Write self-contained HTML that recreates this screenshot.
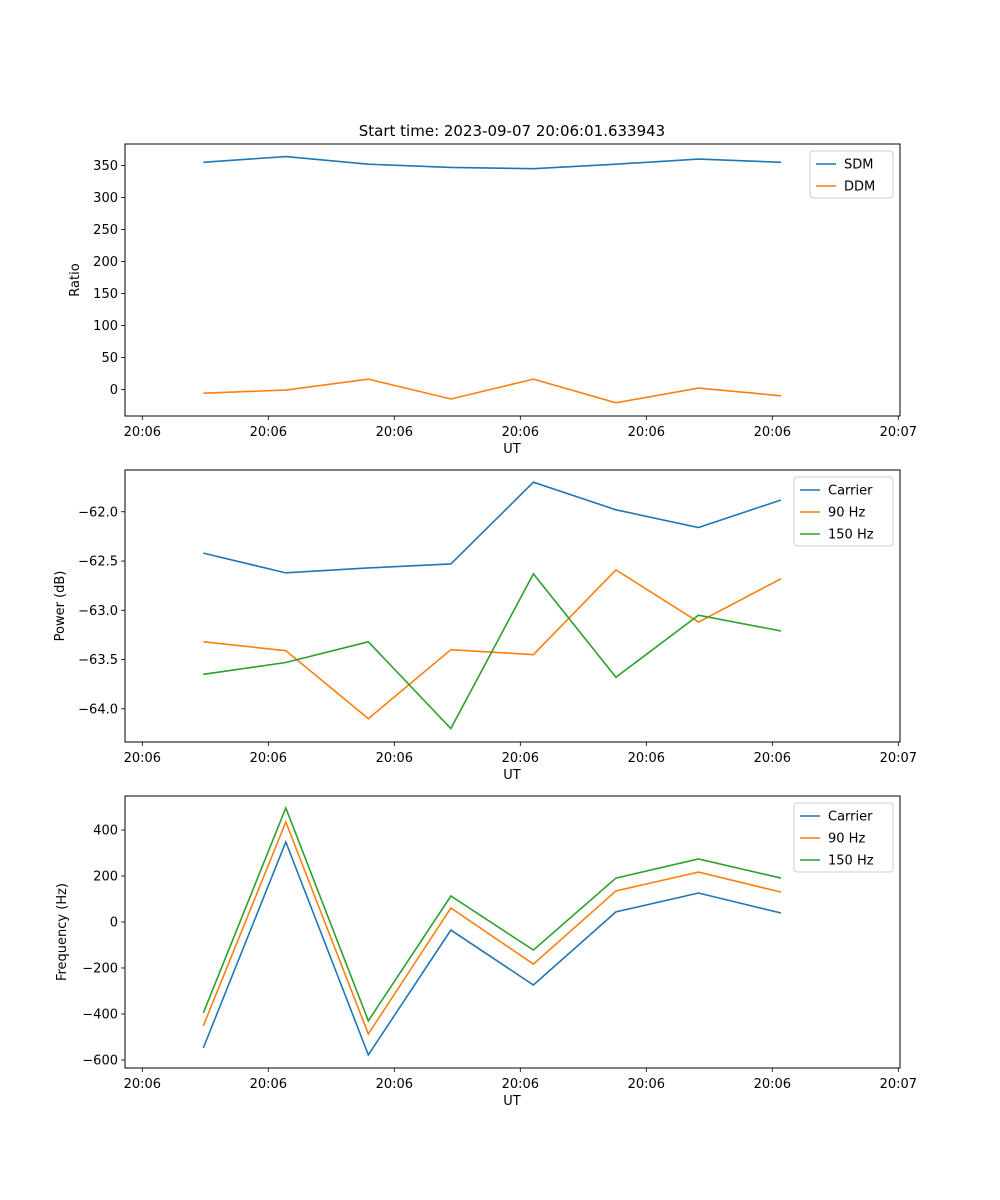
<!DOCTYPE html>
<html><head><meta charset="utf-8"><style>
body{margin:0;background:#fff;}
svg{display:block;font-family:"DejaVu Sans","Liberation Sans",sans-serif;}
</style></head><body>
<svg id="fig" width="1000" height="1200" viewBox="0 0 1000 1200" xmlns="http://www.w3.org/2000/svg">
<rect width="1000" height="1200" fill="#fff"/>
<text x="512" y="136" font-size="15" text-anchor="middle">Start time: 2023-09-07 20:06:01.633943</text>
</svg>
<script>
const xTickLabels = ["20:06","20:06","20:06","20:06","20:06","20:06","20:07"];
const times = [0.484,1.139,1.794,2.449,3.104,3.759,4.414,5.069];
const sdm = [355,364,352,347,345,352,360,355];
const ddm = [-6,-1,16,-15,16,-21,2,-10];
const pCarrier = [-62.42,-62.62,-62.57,-62.53,-61.70,-61.98,-62.16,-61.88];
const p90 = [-63.32,-63.41,-64.10,-63.40,-63.45,-62.59,-63.12,-62.68];
const p150 = [-63.65,-63.53,-63.32,-64.20,-62.63,-63.68,-63.05,-63.21];
const fCarrier = [-548,348,-578,-35,-274,44,126,39];
const f90 = [-452,435,-487,61,-183,135,217,130];
const f150 = [-396,496,-430,113,-122,191,274,191];
const ticks1 = [0,50,100,150,200,250,300,350];
const ticks2 = [-64.0,-63.5,-63.0,-62.5,-62.0];
const ticks3 = [-600,-400,-200,0,200,400];

const NS="http://www.w3.org/2000/svg";
const svg=document.getElementById('fig');
function el(tag,attrs,parent){const e=document.createElementNS(NS,tag);for(const k in attrs)e.setAttribute(k,attrs[k]);(parent||svg).appendChild(e);return e;}
const X0=125,X1=900;
function xs(t){return 142.3+t*126;}
function panel(name,top,bottom,ymin,ymax,yticks,fmt,ylabel,ylabX,series,leg){
  const g=el('g',{});
  
  
  const ys=v=>bottom-(v-ymin)/(ymax-ymin)*(bottom-top);
  xTickLabels.forEach((l,i)=>{
    const x=xs(i);
    const t=el('line',{x1:x,x2:x,y1:bottom,y2:bottom+4,stroke:'#000','stroke-width':0.8},g);
    
    const tx=el('text',{x:x,y:bottom+20,'font-size':13,'text-anchor':'middle'},g);tx.textContent=l;
    
  });
  yticks.forEach(v=>{
    const y=ys(v);
    const t=el('line',{x1:X0-4,x2:X0,y1:y,y2:y,stroke:'#000','stroke-width':0.8},g);
    
    const tx=el('text',{x:X0-7,y:y+4.5,'font-size':13,'text-anchor':'end'},g);tx.textContent=fmt(v);
    
  });
  const xl=el('text',{x:512,y:bottom+37,'font-size':13,'text-anchor':'middle'},g);xl.textContent='UT';
  
  const cy=(top+bottom)/2;
  const yl=el('text',{x:ylabX,y:cy,'font-size':13,'text-anchor':'middle',transform:`rotate(-90 ${ylabX} ${cy})`},g);yl.textContent=ylabel;
  
  series.forEach(s=>{
    const p=el('polyline',{points:s.d.map((v,i)=>xs(times[i])+','+ys(v)).join(' '),fill:'none',stroke:s.c,'stroke-width':1.6},g);
    
  });
  const fr=el('rect',{x:X0,y:top,width:X1-X0,height:bottom-top,fill:'none',stroke:'#000','stroke-width':1},g);
  
  const lg=el('g',{},g);
  
  el('rect',{x:leg.x,y:top+7,width:893-leg.x,height:series.length*22+3,rx:3,fill:'#fff',stroke:'#ccc','stroke-width':1},lg);
  series.forEach((s,i)=>{
    const y=top+20+i*22;
    const e=el('g',{},lg);
    
    el('line',{x1:leg.x+6,x2:leg.x+26,y1:y,y2:y,stroke:s.c,'stroke-width':1.6},e);
    const t=el('text',{x:leg.x+34,y:y+4.5,'font-size':13},e);t.textContent=s.n;
  });
}
const B='#1f77b4',O='#ff7f0e',G='#2ca02c';
panel('ratio-panel',144,416,-41.6,383.6,ticks1,v=>String(v),'Ratio',79,
  [{id:'sdm',n:'SDM',d:sdm,c:B},{id:'ddm',n:'DDM',d:ddm,c:O}],{x:810});
panel('power-panel',470,742,-64.337,-61.576,ticks2,v=>'\u2212'+Math.abs(v).toFixed(1),'Power (dB)',64,
  [{id:'carrier',n:'Carrier',d:pCarrier,c:B},{id:'90hz',n:'90 Hz',d:p90,c:O},{id:'150hz',n:'150 Hz',d:p150,c:G}],{x:794});
panel('frequency-panel',796,1068,-635,548,ticks3,v=>(v<0?'\u2212':'')+Math.abs(v),'Frequency (Hz)',66,
  [{id:'carrier',n:'Carrier',d:fCarrier,c:B},{id:'90hz',n:'90 Hz',d:f90,c:O},{id:'150hz',n:'150 Hz',d:f150,c:G}],{x:794});
</script>
</body></html>
